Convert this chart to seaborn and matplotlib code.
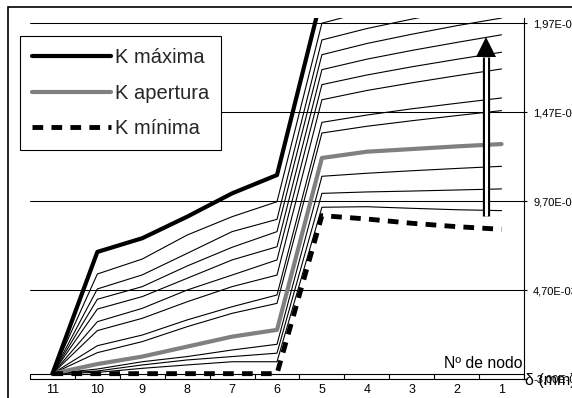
import matplotlib
matplotlib.use('Agg')
import matplotlib.pyplot as plt
from matplotlib.patches import Rectangle
from matplotlib.ticker import FuncFormatter
import seaborn as sns

# node labels along the horizontal axis (left to right)
nodos = ['11', '10', '9', '8', '7', '6', '5', '4', '3', '2', '1']

# main curves
k_maxima = [0.0, 0.00684, 0.00761, 0.00882, 0.01013, 0.01116, 0.02125, 0.0216, 0.0219, 0.0222, 0.0225]
k_apertura = [0.0, 0.00054, 0.00096, 0.00152, 0.00208, 0.00246, 0.01212, 0.01247, 0.01262, 0.01277, 0.0129]
k_minima = [0.0, 0.0, 0.0, 0.0, 0.0, 0.0, 0.00888, 0.00869, 0.00845, 0.00826, 0.00811]

# intermediate stiffness curves (thin lines)
k_a = [0.0, 0.0056, 0.00644, 0.00779, 0.00882, 0.00966, 0.01969, 0.02036, 0.02092, 0.02144, 0.02193]
k_b = [0.0, 0.00476, 0.00555, 0.00676, 0.00798, 0.00867, 0.01875, 0.01939, 0.01992, 0.02041, 0.02088]
k_c = [0.0, 0.00418, 0.00489, 0.00605, 0.0071, 0.00798, 0.01792, 0.01855, 0.01907, 0.01955, 0.01998]
k_d = [0.0, 0.00363, 0.00433, 0.00536, 0.00639, 0.00713, 0.01708, 0.01767, 0.01816, 0.01861, 0.01904]
k_e = [0.0, 0.00292, 0.00367, 0.0047, 0.00554, 0.00639, 0.01624, 0.01678, 0.01724, 0.01766, 0.01806]
k_f = [0.0, 0.00242, 0.00311, 0.00404, 0.00489, 0.00554, 0.01539, 0.01591, 0.01634, 0.01674, 0.01712]
k_g = [0.0, 0.00157, 0.00217, 0.00302, 0.00376, 0.00442, 0.01412, 0.01453, 0.01488, 0.01519, 0.01549]
k_h = [0.0, 0.00118, 0.0018, 0.00264, 0.00339, 0.00395, 0.01352, 0.0139, 0.01421, 0.0145, 0.01478]
k_i = [0.0, 0.00026, 0.00067, 0.00096, 0.00133, 0.00165, 0.01109, 0.01126, 0.0114, 0.01153, 0.01165]
k_j = [0.0, 0.00015, 0.00049, 0.00077, 0.00096, 0.00115, 0.01013, 0.01021, 0.01026, 0.01032, 0.01038]
k_k = [0.0, 0.00007, 0.0003, 0.00049, 0.00067, 0.00067, 0.00935, 0.00938, 0.00929, 0.00921, 0.00916]

y_ticks = [-0.0003, 0.0047, 0.0097, 0.0147, 0.0197]

sns.set_theme(style='white')
plt.rcParams['font.family'] = ['Liberation Sans', 'DejaVu Sans']

fig = plt.figure(figsize=(5.72, 3.98), dpi=100)
ax = fig.add_axes([30 / 572, 1 - 379 / 398, 494 / 572, (379 - 17.7) / 398])

xpos = list(range(len(nodos)))

for serie in [k_a, k_b, k_c, k_d, k_e, k_f, k_g, k_h, k_i, k_j, k_k]:
    sns.lineplot(x=xpos, y=serie, ax=ax, color='black', lw=0.8, estimator=None, sort=False)

sns.lineplot(x=xpos, y=k_apertura, ax=ax, color='#808080', lw=3, label='K apertura',
             estimator=None, sort=False)
sns.lineplot(x=xpos, y=k_minima, ax=ax, color='black', lw=3.5, label='K mínima',
             estimator=None, sort=False, dashes=False)
ax.lines[-1].set_dashes((2.2, 1.7))
ax.lines[-1].set_dash_capstyle('butt')
sns.lineplot(x=xpos, y=k_maxima, ax=ax, color='black', lw=3, label='K máxima',
             estimator=None, sort=False)

# double-line arrow
xa = 9.66
ax.plot([xa, xa], [0.00888, 0.0178], color='black', lw=5.2, solid_capstyle='butt')
ax.plot([xa, xa], [0.00888, 0.0178], color='white', lw=2.2, solid_capstyle='butt')
ax.plot([xa], [0.01835], marker='^', ms=15, mew=0, color='black')

# axes
ax.set_xlim(-0.5, len(nodos) - 0.5)
ax.set_ylim(-0.0003, 0.0200)
ax.axhline(0, color='black', lw=0.8)
for sp in ['top', 'left']:
    ax.spines[sp].set_visible(False)
for sp in ['right', 'bottom']:
    ax.spines[sp].set_color('black')
    ax.spines[sp].set_linewidth(0.8)

ax.set_xticks([i - 0.5 for i in range(len(nodos) + 1)])
ax.set_xticklabels([])
ax.set_xticks(xpos, labels=nodos, minor=True)
ax.tick_params(axis='x', which='major', direction='in', length=3.8, width=0.8, color='black', bottom=True)
ax.tick_params(axis='x', which='minor', length=0, pad=3.5, labelsize=9, labelcolor='black')

ax.yaxis.tick_right()
ax.set_yticks(y_ticks)
ax.yaxis.set_major_formatter(FuncFormatter(lambda v, p: f'{v:.2E}'.replace('.', ',')))
ax.tick_params(axis='y', direction='inout', length=5, width=0.8, color='black', right=True,
               pad=4, labelsize=8, labelcolor='black')
ax.grid(axis='y', color='black', lw=0.75)
ax.grid(axis='x', visible=False)
ax.set_xlabel('')
ax.set_ylabel('')

ax.text(0.996, 0.030, 'Nº de nodo', transform=ax.transAxes, ha='right', va='baseline',
        fontsize=11.3, color='black')
fig.text(525 / 572, 1 - 385 / 398, 'δ (mm)', ha='left', va='baseline', fontsize=11.5, color='black')

handles, labels = ax.get_legend_handles_labels()
order = [labels.index('K máxima'), labels.index('K apertura'), labels.index('K mínima')]
leg = ax.legend([handles[i] for i in order], [labels[i] for i in order],
                loc='upper left', bbox_to_anchor=(20 / 572, 1 - 36 / 398),
                bbox_transform=fig.transFigure, borderaxespad=0, fontsize=14.5,
                handlelength=3.9, handletextpad=0.2, labelspacing=0.82, borderpad=0.6,
                frameon=True, fancybox=False, framealpha=1, edgecolor='black')
leg.get_frame().set_linewidth(0.8)

# outer chart border
fig.patches.append(Rectangle((8 / 572, -0.1), 1.0, 1.1 - 7 / 398, transform=fig.transFigure,
                             fill=False, edgecolor='black', lw=1.2, clip_on=False))

fig.savefig('out.png', dpi=100)
